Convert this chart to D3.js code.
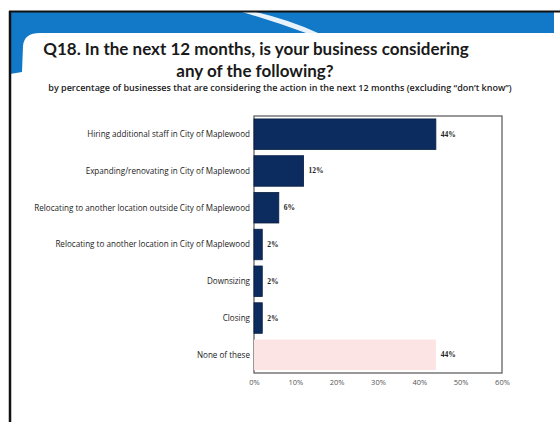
<!DOCTYPE html>
<html>
<head>
<meta charset="utf-8">
<script src="https://cdn.jsdelivr.net/npm/d3@7"></script>
<style>
  html, body { margin: 0; padding: 0; background: #fff; }
  svg { display: block; }
</style>
</head>
<body>
<svg id="chart" width="560" height="422"></svg>
<script>
// Survey answers, in the order shown
const categories = [
  "Hiring additional staff in City of Maplewood",
  "Expanding/renovating in City of Maplewood",
  "Relocating to another location outside City of Maplewood",
  "Relocating to another location in City of Maplewood",
  "Downsizing",
  "Closing",
  "None of these"
];
const values = [44, 12, 6, 2, 2, 2, 44];
const tickValues = [0, 10, 20, 30, 40, 50, 60];
const tickLabels = ["0%", "10%", "20%", "30%", "40%", "50%", "60%"];

const svg = d3.select("#chart");

// Slide frame and blue header band
svg.append("rect").attr("x", 0).attr("y", 0).attr("width", 560).attr("height", 422).attr("fill", "#fff");
svg.append("path")
  .attr("d", "M10,12 L554,12 L554,33 L40,33 Q24,33 23,46 L22,72 L10,74 Z")
  .attr("fill", "#1278c8");
svg.append("path")
  .attr("d", "M242,12 L256,12 Q290,20 318,33 L306,33 Q276,22 242,12 Z")
  .attr("fill", "#e8f2fb");
svg.append("line").attr("x1", 9).attr("y1", 11.5).attr("x2", 560).attr("y2", 11.5)
  .attr("stroke", "#111").attr("stroke-width", 2);
svg.append("line").attr("x1", 10).attr("y1", 11).attr("x2", 10).attr("y2", 422)
  .attr("stroke", "#111").attr("stroke-width", 2.5);

// Title block
const titleFont = "Lato, 'Open Sans', sans-serif";
svg.append("text").attr("x", 256).attr("y", 55).attr("text-anchor", "middle")
  .attr("font-family", titleFont).attr("font-weight", "bold").attr("font-size", 17)
  .attr("fill", "#1a1a1a")
  .text("Q18. In the next 12 months, is your business considering");
svg.append("text").attr("x", 255).attr("y", 77).attr("text-anchor", "middle")
  .attr("font-family", titleFont).attr("font-weight", "bold").attr("font-size", 17)
  .attr("fill", "#1a1a1a")
  .text("any of the following?");
svg.append("text").attr("x", 280).attr("y", 91).attr("text-anchor", "middle")
  .attr("font-family", "'Open Sans', sans-serif").attr("font-weight", 600).attr("font-size", 9)
  .attr("fill", "#222")
  .text("by percentage of businesses that are considering the action in the next 12 months  (excluding \u201cdon\u2019t know\u201d)");

// Plot area
const plot = { left: 254, right: 502, top: 116, bottom: 373 };
const x = d3.scaleLinear().domain([0, 60]).range([plot.left, plot.right]);
const y = d3.scaleBand().domain(categories).range([plot.top, plot.bottom]).paddingInner(0.17).paddingOuter(0.08);

const g = svg.append("g");

g.append("rect")
  .attr("x", plot.left).attr("y", plot.top)
  .attr("width", plot.right - plot.left).attr("height", plot.bottom - plot.top)
  .attr("fill", "none").attr("stroke", "#555").attr("stroke-width", 1.2);

g.selectAll("rect.bar")
  .data(categories)
  .join("rect")
  .attr("class", "bar")
  .attr("x", x(0))
  .attr("y", d => y(d))
  .attr("width", (d, i) => x(values[i]) - x(0))
  .attr("height", y.bandwidth())
  .attr("fill", (d, i) => i === categories.length - 1 ? "#fde4e4" : "#0c2b5e")
  .attr("stroke", (d, i) => i === categories.length - 1 ? "none" : "#081d40")
  .attr("stroke-width", 0.8);

// Value labels
g.selectAll("text.val")
  .data(categories)
  .join("text")
  .attr("class", "val")
  .attr("x", (d, i) => x(values[i]) + 5)
  .attr("y", d => y(d) + y.bandwidth() / 2 + 2.5)
  .attr("font-family", "'Liberation Serif', serif")
  .attr("font-weight", "bold")
  .attr("font-size", 7.5)
  .attr("fill", "#222")
  .text((d, i) => values[i] + "%");

// Category labels
const yAxis = d3.axisLeft(y).tickSize(0).tickPadding(4);
const ya = g.append("g").attr("transform", `translate(${plot.left},0)`).call(yAxis);
ya.select(".domain").remove();
ya.selectAll("text")
  .attr("font-family", "'Open Sans', sans-serif")
  .attr("font-size", 8.1)
  .attr("fill", "#222")
  .attr("dy", "0.35em");

// Percentage axis
const xAxis = d3.axisBottom(x).tickValues(tickValues).tickSize(0).tickPadding(7)
  .tickFormat((d, i) => tickLabels[i]);
const xa = g.append("g").attr("transform", `translate(0,${plot.bottom})`).call(xAxis);
xa.select(".domain").remove();
xa.selectAll("text")
  .attr("font-family", "'Open Sans', sans-serif")
  .attr("font-size", 7.5)
  .attr("fill", "#555");
</script>
</body>
</html>
